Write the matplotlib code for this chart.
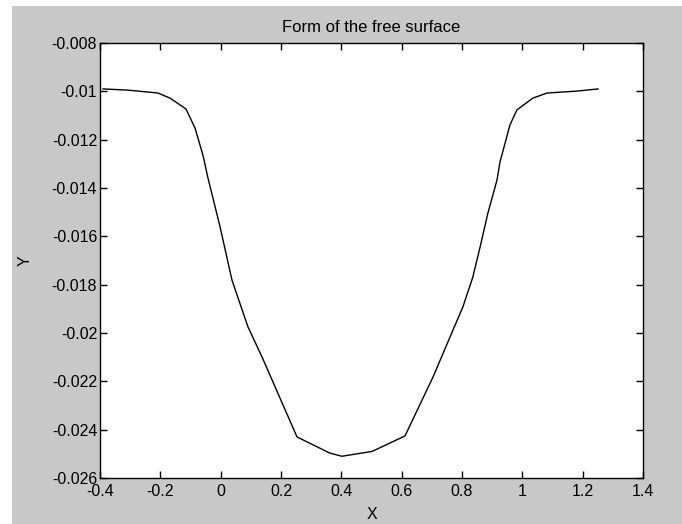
import numpy as np
import matplotlib.pyplot as plt
from matplotlib.patches import Rectangle

plt.rcParams['font.family'] = ['Liberation Sans', 'DejaVu Sans']

# free surface profile
x = [-0.390, -0.307, -0.208, -0.168, -0.115, -0.085, -0.059, -0.042, -0.002,
     0.0375, 0.0906, 0.137, 0.253, 0.362, 0.402, 0.502, 0.611, 0.704, 0.770,
     0.803, 0.836, 0.860, 0.886, 0.916, 0.926, 0.959, 0.982, 1.035, 1.082,
     1.181, 1.251]
y = [-0.00990, -0.00995, -0.01007, -0.01028, -0.01073, -0.01152, -0.01263,
     -0.01359, -0.01561, -0.01781, -0.01975, -0.02099, -0.02430, -0.02497,
     -0.02510, -0.02490, -0.02426, -0.02182, -0.01988, -0.01892, -0.01768,
     -0.01644, -0.01503, -0.01367, -0.01292, -0.01139, -0.01077, -0.01028,
     -0.01007, -0.00999, -0.00990]

xticks = [-0.4, -0.2, 0, 0.2, 0.4, 0.6, 0.8, 1, 1.2, 1.4]
yticks = [-0.026, -0.024, -0.022, -0.02, -0.018, -0.016, -0.014, -0.012, -0.01, -0.008]

fig = plt.figure(figsize=(6.82, 5.24), dpi=100)
fig.patch.set_facecolor('white')
# grey figure area (white strip on top and left like the screenshot)
fig.patches.append(Rectangle((12/682, 0), 1, 518/524, transform=fig.transFigure,
                             facecolor='#c8c8c8', edgecolor='none', zorder=-10))

ax = fig.add_axes([100/682, 46/524, 543/682, 435/524])
ax.set_facecolor('white')
ax.plot(x, y, color='black', lw=1.0)

ax.set_xlim(-0.4, 1.4)
ax.set_ylim(-0.026, -0.008)
ax.set_xticks(xticks)
ax.set_xticklabels([('%g' % t) for t in xticks])
ax.set_yticks(yticks)
ax.set_yticklabels([('%g' % t) for t in yticks])
ax.tick_params(direction='in', length=5, width=1, top=True, right=True,
               labelsize=11.5, pad=2, colors='black')
ax.tick_params(axis='x', pad=4)
for s in ax.spines.values():
    s.set_linewidth(1)

ax.set_title('Form of the free surface', fontsize=12, pad=8)
ax.set_xlabel('X', fontsize=11.5, labelpad=6)
ax.set_ylabel('Y', fontsize=11.5, labelpad=14)

fig.savefig('out.png', dpi=100)
